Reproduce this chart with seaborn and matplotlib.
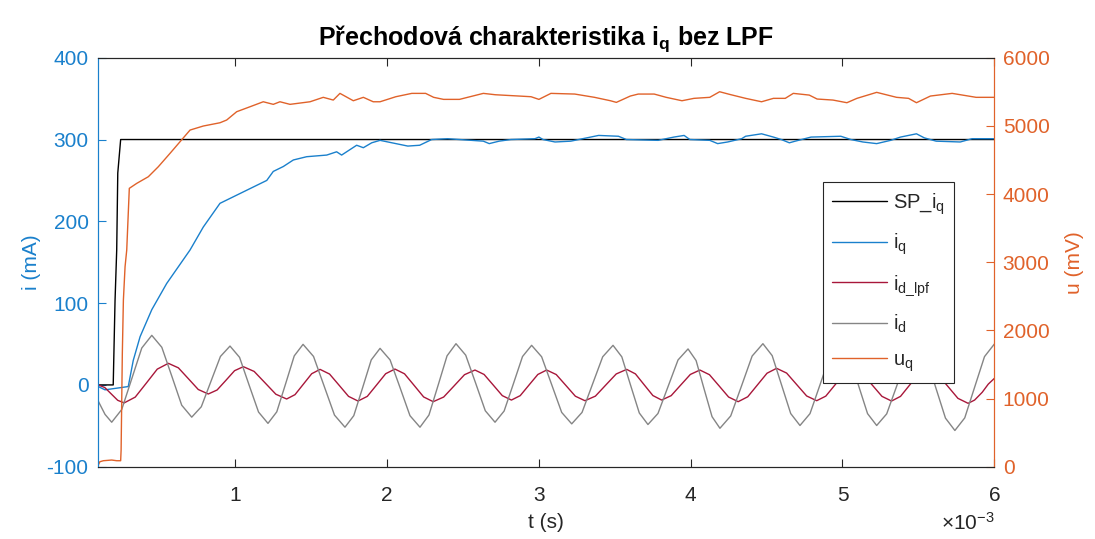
import numpy as np
import pandas as pd
import matplotlib
matplotlib.use("Agg")
import matplotlib.pyplot as plt
from matplotlib.ticker import FixedLocator, FuncFormatter
import seaborn as sns

# ---- measured signals (time in ms, currents in mA, voltage in mV) ----
t_sp_ms = [0.1, 0.198, 0.21, 0.221, 0.228, 0.247, 6.0]
sp_iq = [0, 0, 103, 165, 259, 300, 300]

t_iq_ms = [0.1, 0.144, 0.297, 0.33, 0.375, 0.452, 0.55, 0.704, 0.791, 0.901,
           0.989, 1.099, 1.209, 1.252, 1.318, 1.384, 1.472, 1.604, 1.669, 1.702,
           1.801, 1.845, 1.9, 1.955, 2.033, 2.138, 2.216, 2.295, 2.4, 2.635,
           2.674, 2.739, 2.817, 2.975, 3.001, 3.028, 3.107, 3.211, 3.263, 3.394,
           3.525, 3.577, 3.786, 3.89, 3.957, 3.995, 4.126, 4.178, 4.244, 4.336,
           4.362, 4.467, 4.545, 4.597, 4.65, 4.689, 4.793, 4.989, 5.055, 5.134,
           5.225, 5.317, 5.382, 5.487, 5.539, 5.617, 5.775, 5.853, 6.0]
iq = [-2, -6, -2, 30, 59, 92, 124, 165, 193, 222,
      230, 240, 250, 261, 267, 275, 279, 281, 285, 281,
      293, 290, 296, 299, 296, 292, 293, 300, 301, 298,
      295, 298, 300, 301, 303, 300, 297, 298, 300, 305,
      304, 300, 299, 303, 305, 300, 299, 295, 297, 301,
      304, 307, 303, 300, 296, 298, 303, 304, 300, 297,
      295, 299, 303, 307, 302, 298, 297, 301, 301]

t_idlpf_ms = [0.1, 0.1425, 0.185, 0.2275, 0.27, 0.343, 0.416, 0.488, 0.561,
              0.627, 0.693, 0.758, 0.824, 0.882, 0.94, 0.997, 1.055,
              1.126, 1.198, 1.269, 1.34, 1.395, 1.45, 1.505, 1.56,
              1.6225, 1.685, 1.7475, 1.81, 1.871, 1.932, 1.992, 2.053,
              2.116, 2.179, 2.242, 2.305, 2.374, 2.443, 2.511, 2.58,
              2.64, 2.7, 2.76, 2.82, 2.878, 2.936, 2.994, 3.052,
              3.115, 3.178, 3.241, 3.304, 3.373, 3.4415, 3.51, 3.579,
              3.6365, 3.694, 3.7515, 3.809, 3.872, 3.935, 3.998, 4.061,
              4.124, 4.187, 4.25, 4.313, 4.376, 4.4395, 4.503, 4.566,
              4.632, 4.698, 4.764, 4.83, 4.89, 4.95, 5.01, 5.07,
              5.133, 5.1965, 5.26, 5.323, 5.382, 5.4415, 5.501, 5.56,
              5.627, 5.6935, 5.76, 5.827, 5.87, 5.92, 5.96, 6.0]
id_lpf = [0, -3.2, -11, -18.8, -22, -14.9, 2.2, 19.3, 26.4,
          20.9, 7.6, -5.6, -11.1, -6.2, 5.6, 17.4, 22.3,
          16.5, 2.5, -11.4, -17.2, -11.9, 0.9, 13.7, 19,
          13.3, -0.3, -14.0, -19.7, -14.0, -0.1, 13.7, 19.4,
          13.6, -0.5, -14.7, -20.5, -14.8, -1.1, 12.5, 18.2,
          12.8, -0.1, -13.1, -18.5, -13.1, -0.1, 12.8, 18.2,
          12.7, -0.5, -13.8, -19.3, -13.7, -0.1, 13.4, 19,
          13.5, 0.2, -13.0, -18.5, -13.1, -0.1, 12.8, 18.2,
          12.5, -1.1, -14.8, -20.5, -14.5, -0.1, 14.3, 20.3,
          14.5, 0.5, -13.5, -19.3, -13.7, -0.1, 13.4, 19,
          13.3, -0.3, -14.0, -19.7, -14.0, -0.3, 13.3, 19,
          12.9, -1.7, -16.4, -22.5, -18.5, -9, 1, 8]

t_id_ms = [0.1, 0.144, 0.188, 0.254, 0.32, 0.386, 0.452,
           0.518, 0.584, 0.649, 0.715, 0.778, 0.841, 0.904, 0.967,
           1.03, 1.092, 1.155, 1.217, 1.275, 1.333, 1.39, 1.448,
           1.517, 1.586, 1.655, 1.724, 1.782, 1.84, 1.897, 1.955,
           2.021, 2.087, 2.152, 2.218, 2.277, 2.337, 2.396, 2.455,
           2.519, 2.584, 2.648, 2.712, 2.772, 2.833, 2.893, 2.953,
           3.019, 3.085, 3.151, 3.217, 3.285, 3.353, 3.421, 3.489,
           3.547, 3.604, 3.662, 3.719, 3.785, 3.851, 3.917, 3.983,
           4.036, 4.088, 4.141, 4.193, 4.264, 4.335, 4.405, 4.476,
           4.537, 4.598, 4.659, 4.72, 4.786, 4.852, 4.917, 4.983,
           5.044, 5.104, 5.165, 5.225, 5.291, 5.358, 5.424, 5.49,
           5.553, 5.615, 5.678, 5.74, 5.805, 5.87, 5.935, 6.0]
id_raw = [-20, -36, -45.6, -30.1, 7.5, 45.1, 60.6,
          46.0, 10.6, -24.8, -39.4, -26.7, 4.1, 34.8, 47.5,
          33.7, 0.2, -33.2, -47, -32.9, 1.3, 35.5, 49.6,
          34.8, -1.0, -36.9, -51.7, -37.6, -3.5, 30.6, 44.7,
          30.6, -3.5, -37.6, -51.7, -36.8, -0.6, 35.5, 50.4,
          36.4, 2.4, -31.6, -45.6, -31.9, 1.4, 34.7, 48.4,
          34.4, 0.4, -33.6, -47.6, -33.6, 0.4, 34.4, 48.4,
          34.3, 0, -34.3, -48.4, -34.9, -2.2, 30.5, 44,
          29.8, -4.5, -38.8, -53, -37.9, -1.3, 35.3, 50.4,
          35.8, 0.4, -35, -49.6, -35.1, 0.2, 35.5, 50,
          35.5, 0.2, -35.1, -49.6, -35.4, -0.8, 33.8, 48,
          32.9, -3.8, -40.6, -55.7, -40.3, -2.8, 34.6, 50]

t_uq_ms = [0.1, 0.11, 0.133, 0.188, 0.221, 0.247, 0.25, 0.258, 0.265, 0.276,
           0.287, 0.304, 0.353, 0.429, 0.495, 0.572, 0.638, 0.704, 0.791, 0.901,
           0.945, 1.011, 1.099, 1.186, 1.252, 1.296, 1.362, 1.494, 1.581, 1.647,
           1.691, 1.779, 1.845, 1.91, 1.955, 2.059, 2.164, 2.255, 2.308, 2.373,
           2.478, 2.635, 2.714, 2.87, 2.949, 3.001, 3.08, 3.237, 3.367, 3.472,
           3.511, 3.603, 3.655, 3.76, 3.839, 3.943, 4.022, 4.126, 4.191, 4.257,
           4.362, 4.467, 4.545, 4.623, 4.676, 4.781, 4.833, 4.937, 5.029, 5.095,
           5.225, 5.356, 5.435, 5.487, 5.579, 5.722, 5.88, 6.0]
uq = [25, 73, 88, 98, 88, 88, 245, 1663, 2445, 2934,
      3179, 4084, 4157, 4254, 4401, 4597, 4768, 4939, 4998, 5046,
      5086, 5208, 5281, 5354, 5316, 5354, 5316, 5354, 5419, 5379,
      5477, 5369, 5419, 5354, 5354, 5428, 5477, 5477, 5419, 5389,
      5389, 5477, 5457, 5438, 5428, 5389, 5477, 5467, 5419, 5369,
      5345, 5438, 5467, 5467, 5419, 5369, 5404, 5419, 5501, 5462,
      5404, 5354, 5404, 5404, 5477, 5452, 5394, 5379, 5340, 5404,
      5492, 5419, 5404, 5340, 5438, 5477, 5419, 5419]

labels = ["SP_$\\mathregular{i_q}$", "$\\mathregular{i_q}$",
          "$\\mathregular{i_{d\\_lpf}}$", "$\\mathregular{i_d}$",
          "$\\mathregular{u_q}$"]

C_BLUE = "#1A80CC"
C_ORANGE = "#E0622A"
C_RED = "#A8173A"
C_GRAY = "#858585"
C_AX = "#262626"

sns.set_theme(style="white")
plt.rcParams["font.family"] = ["Liberation Sans", "DejaVu Sans"]
plt.rcParams["mathtext.fontset"] = "custom"
plt.rcParams["mathtext.rm"] = "Liberation Sans"
plt.rcParams["mathtext.bf"] = "Liberation Sans:bold"
plt.rcParams["axes.unicode_minus"] = False

fig = plt.figure(figsize=(10.95, 5.39), dpi=100)
ax = fig.add_axes([0.0898, 0.1341, 0.8183, 0.7588])
ax2 = ax.twinx()


def frame(t_ms, v):
    return pd.DataFrame({"t": np.asarray(t_ms) * 1e-3, "v": v})


lw = 1.0
handles = []
for (tt, vv, col) in [(t_sp_ms, sp_iq, "black"), (t_iq_ms, iq, C_BLUE),
                      (t_idlpf_ms, id_lpf, C_RED), (t_id_ms, id_raw, C_GRAY)]:
    sns.lineplot(data=frame(tt, vv), x="t", y="v", ax=ax, color=col,
                 linewidth=lw, sort=False, estimator=None, legend=False)
    handles.append(ax.lines[-1])
sns.lineplot(data=frame(t_uq_ms, uq), x="t", y="v", ax=ax2, color=C_ORANGE,
             linewidth=lw, sort=False, estimator=None, legend=False)
handles.append(ax2.lines[-1])

FS = 15
ax.set_xlim(0.1e-3, 6e-3)
ax.set_ylim(-100, 400)
ax2.set_ylim(0, 6000)
ax.xaxis.set_major_locator(FixedLocator([1e-3, 2e-3, 3e-3, 4e-3, 5e-3, 6e-3]))
ax.xaxis.set_major_formatter(FuncFormatter(lambda v, _: f"{v * 1e3:g}"))
ax.set_yticks([-100, 0, 100, 200, 300, 400])
ax2.set_yticks([0, 1000, 2000, 3000, 4000, 5000, 6000])

ax.tick_params(axis="x", direction="in", length=5.5, width=0.8, color=C_AX,
               labelcolor=C_AX, labelsize=FS, pad=14, top=True, bottom=True)
ax.tick_params(axis="y", direction="in", length=5.5, width=0.8, color=C_BLUE,
               labelcolor=C_BLUE, labelsize=FS, pad=7, left=True, right=False)
ax2.tick_params(axis="y", direction="in", length=5.5, width=0.8, color=C_ORANGE,
                labelcolor=C_ORANGE, labelsize=FS, pad=6, right=True)

for a in (ax, ax2):
    for side in ("top", "bottom"):
        a.spines[side].set_color(C_AX)
        a.spines[side].set_linewidth(0.8)
    a.spines["left"].set_color(C_BLUE)
    a.spines["right"].set_color(C_ORANGE)
    for side in ("left", "right"):
        a.spines[side].set_linewidth(0.8)
    a.set_xlabel("")
    a.set_ylabel("")

ax.set_xlabel("t (s)", fontsize=FS, color=C_AX, labelpad=6)
ax.set_ylabel("i (mA)", fontsize=FS, color=C_BLUE, labelpad=4)
ax2.set_ylabel("u (mV)", fontsize=FS, color=C_ORANGE, labelpad=11)
ax.text(1.0, -0.155, "$\\mathregular{\\times10^{-3}}$", transform=ax.transAxes,
        ha="right", va="baseline", fontsize=FS, color=C_AX)

ax.set_title("Přechodová charakteristika $\\mathbf{i_q}$ bez LPF",
             fontsize=18, fontweight="bold", color="black", pad=9)

leg = ax2.legend(handles, labels, loc="upper left", bbox_to_anchor=(0.809, 0.696),
                 bbox_transform=ax.transAxes, fontsize=14.5, frameon=True,
                 fancybox=False, framealpha=1, edgecolor=C_AX,
                 handlelength=2.7, handletextpad=0.3, labelspacing=0.76,
                 borderpad=0.45, borderaxespad=0)
leg.get_frame().set_linewidth(0.8)

fig.savefig("out.png", dpi=100, facecolor="white")
